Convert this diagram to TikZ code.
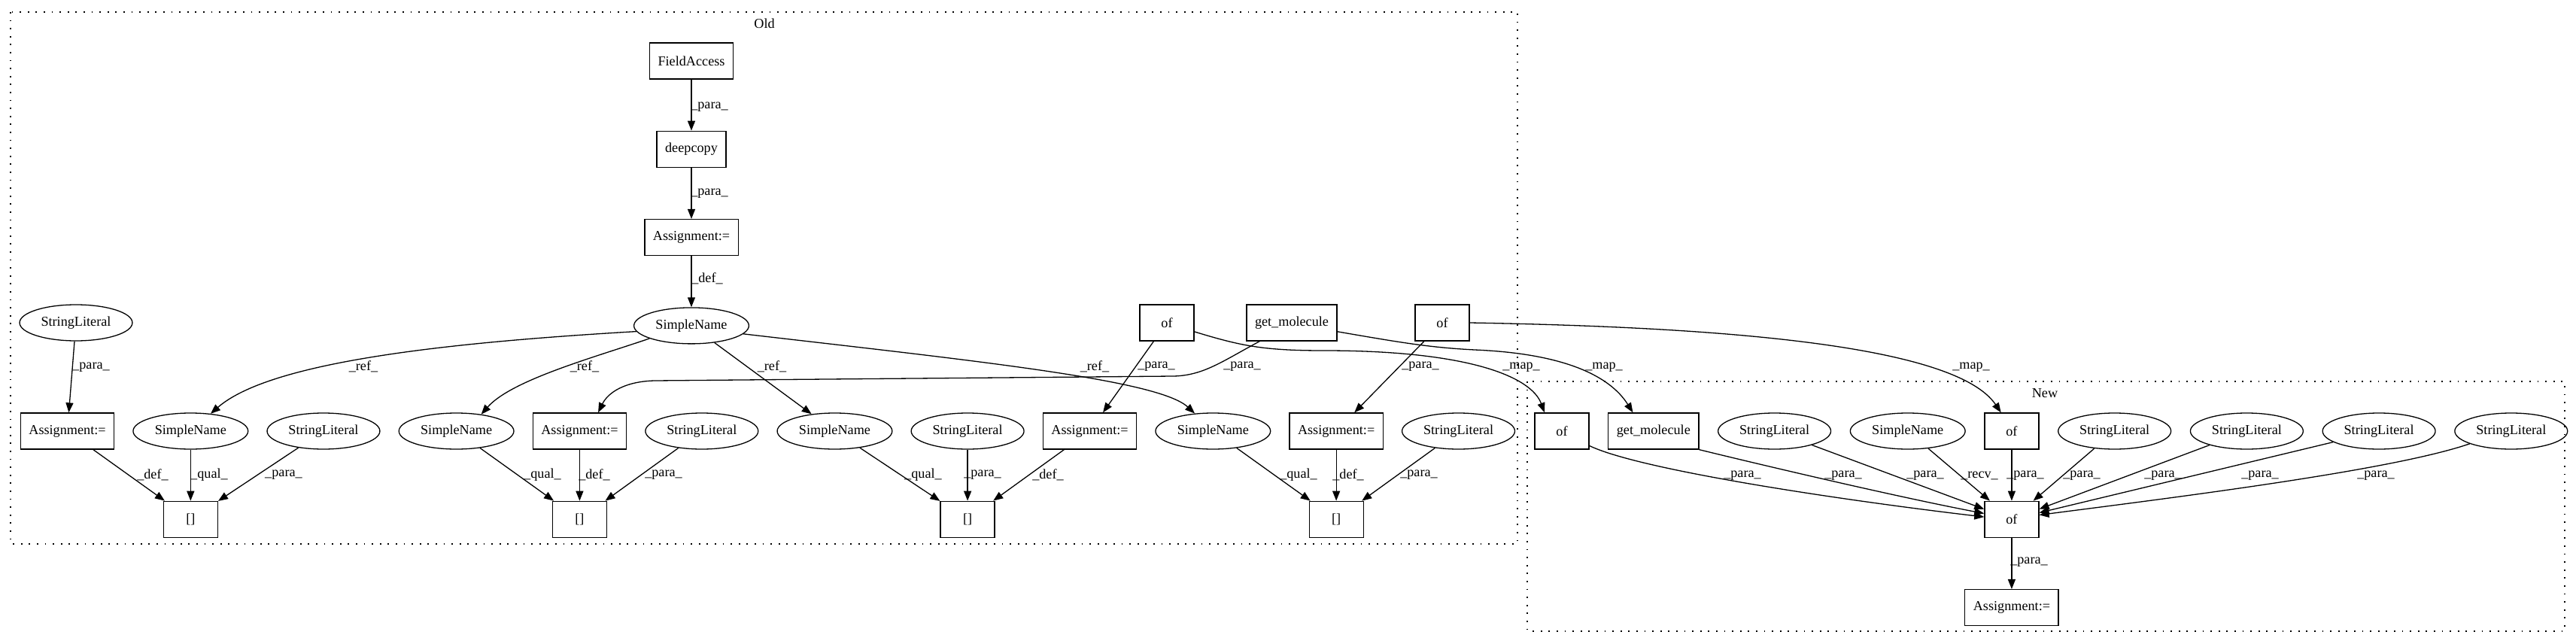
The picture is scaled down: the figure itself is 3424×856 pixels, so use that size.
\documentclass[tikz,border=0pt]{standalone}
\usepackage{fontspec}
\setmainfont{Liberation Serif}
\usetikzlibrary{positioning,shapes.geometric,arrows.meta}

\tikzset{
  boxed/.style={draw, rectangle, line width=1.3pt, minimum width=72pt,
    minimum height=48pt, inner xsep=11pt, inner ysep=0pt},
  oval/.style={draw, ellipse, line width=1.3pt, minimum height=48pt,
    inner xsep=6.5pt, inner ysep=0pt},
  link/.style={line width=1.3pt, -{Triangle[length=13pt,width=10pt]}},
  lbl/.style={inner sep=0pt},
  cluster/.style={line width=1.3pt, dash pattern=on 1.8pt off 8.8pt},
}

\begin{document}
\begin{tikzpicture}[x=1pt, y=-1pt, font=\fontsize{18.2pt}{22pt}\selectfont]

  \useasboundingbox (0,0) rectangle (3424,856);

  % Clusters
  \draw[cluster] (14,16) rectangle (2017,723);
  \node (oldlbl) at (1016,31) {Old};
  \draw[cluster] (2030,507) rectangle (3409,839);
  \node (newlbl) at (2718,523) {New};

  % Define nodes (old)
  \node[boxed] (fa) at (919,81) {FieldAccess};
  \node[boxed, below=68pt of fa] (dc) {deepcopy};
  \node[boxed, below=68pt of dc] (asg0) {Assignment:=};
  \node[oval, below=68pt of asg0] (sn0) {SimpleName};
  \node[oval] (sl0) at (101,429) {StringLiteral};
  \node[boxed] (of1) at (1551,429) {of};
  \node[boxed] (gm1) at (1717,429) {get\_molecule};
  \node[boxed] (of2) at (1917,429) {of};

  \node[boxed] (asg1) at (89.5,573) {Assignment:=};
  \node[oval, right=24pt of asg1] (sn1) {SimpleName};
  \node[oval, right=24pt of sn1] (sl1) {StringLiteral};
  \node[oval, right=24pt of sl1] (sn2) {SimpleName};
  \node[boxed, right=24pt of sn2] (asg2) {Assignment:=};
  \node[oval, right=24pt of asg2] (sl2) {StringLiteral};
  \node[oval, right=24pt of sl2] (sn3) {SimpleName};
  \node[oval, right=24pt of sn3] (sl3) {StringLiteral};
  \node[boxed, right=24pt of sl3] (asg3) {Assignment:=};
  \node[oval, right=24pt of asg3] (sn4) {SimpleName};
  \node[boxed, right=24pt of sn4] (asg4) {Assignment:=};
  \node[oval, right=24pt of asg4] (sl4) {StringLiteral};

  \node[boxed, below=68pt of sn1] (idx1) {[]};
  \node[boxed, below=68pt of asg2] (idx2) {[]};
  \node[boxed, below=68pt of sl3] (idx3) {[]};
  \node[boxed, below=68pt of asg4] (idx4) {[]};

  % Define nodes (new)
  \node[boxed] (nof1) at (2076,573) {of};
  \node[boxed, right=24.5pt of nof1] (ngm) {get\_molecule};
  \node[oval, right=24.5pt of ngm] (nsl1) {StringLiteral};
  \node[oval, right=24.5pt of nsl1] (nsn) {SimpleName};
  \node[boxed, right=24.5pt of nsn] (nof2) {of};
  \node[oval, right=24.5pt of nof2] (nsl2) {StringLiteral};
  \node[oval, right=24.5pt of nsl2] (nsl3) {StringLiteral};
  \node[oval, right=24.5pt of nsl3] (nsl4) {StringLiteral};
  \node[oval, right=24.5pt of nsl4] (nsl5) {StringLiteral};
  \node[boxed, below=68pt of nof2] (nof) {of};
  \node[boxed, below=68pt of nof] (nasg) {Assignment:=};

  % Connect the nodes (old)
  \draw[link] (fa) -- (dc) node[lbl] at (943,142) {\_para\_};
  \draw[link] (dc) -- (asg0) node[lbl] at (943,257) {\_para\_};
  \draw[link] (asg0) -- (sn0) node[lbl] at (940,370) {\_def\_};
  \draw[link] (sl0) -- (asg1) node[lbl] at (121,488) {\_para\_};
  \draw[link] (sn0.186) .. controls (600,455) and (360,480) .. (sn1.41)
    node[lbl] at (483,487) {\_ref\_};
  \draw[link] (sn0.197) .. controls (790,475) and (680,505) .. (sn2.34)
    node[lbl] at (777,487) {\_ref\_};
  \draw[link] (sn0) -- (sn3) node[lbl] at (1026,487) {\_ref\_};
  \draw[link] (sn0.351) .. controls (1300,480) and (1540,505) .. (sn4.136)
    node[lbl] at (1455,487) {\_ref\_};
  \draw[link] (gm1.210) .. controls (1625,480) and (1600,499) .. (1560,500)
    -- (870,506) .. controls (830,507) and (808,522) .. (asg2.45)
    node[lbl] at (1651,487) {\_para\_};
  \draw[link] (of1) -- (asg3) node[lbl] at (1537,487) {\_para\_};
  \draw[link] (of2) -- (asg4) node[lbl] at (1888,487) {\_para\_};

  \draw[link] (asg1) -- (idx1) node[lbl] at (203,631) {\_def\_};
  \draw[link] (sn1) -- (idx1) node[lbl] at (278,631) {\_qual\_};
  \draw[link] (sl1) -- (idx1) node[lbl] at (377,631) {\_para\_};
  \draw[link] (sn2) -- (idx2) node[lbl] at (721,631) {\_qual\_};
  \draw[link] (asg2) -- (idx2) node[lbl] at (790,631) {\_def\_};
  \draw[link] (sl2) -- (idx2) node[lbl] at (882,631) {\_para\_};
  \draw[link] (sn3) -- (idx3) node[lbl] at (1227,631) {\_qual\_};
  \draw[link] (sl3) -- (idx3) node[lbl] at (1306,631) {\_para\_};
  \draw[link] (asg3) -- (idx3) node[lbl] at (1393,631) {\_def\_};
  \draw[link] (sn4) -- (idx4) node[lbl] at (1726,631) {\_qual\_};
  \draw[link] (asg4) -- (idx4) node[lbl] at (1792,631) {\_def\_};
  \draw[link] (sl4) -- (idx4) node[lbl] at (1886,631) {\_para\_};

  % Old -> new
  \draw[link] (of1.342) .. controls (1650,460) and (1680,466) .. (1760,466)
    .. controls (1950,466) and (2035,500) .. (nof1.133)
    node[lbl] at (2022,488) {\_map\_};
  \draw[link] (gm1.349) .. controls (1860,455) and (1900,462) .. (1960,465)
    .. controls (2080,470) and (2140,500) .. (ngm.138)
    node[lbl] at (2132,488) {\_map\_};
  \draw[link] (of2.east) .. controls (2300,435) and (2600,460) .. (nof2.120)
    node[lbl] at (2620,488) {\_map\_};

  % Connect the nodes (new)
  \draw[link] (nof1.332) .. controls (2180,625) and (2450,665) .. (nof.175)
    node[lbl] at (2316,632) {\_para\_};
  \draw[link] (ngm.south east) .. controls (2350,620) and (2520,660) .. (nof.168)
    node[lbl] at (2450,632) {\_para\_};
  \draw[link] (nsl1) -- (nof) node[lbl] at (2559,632) {\_para\_};
  \draw[link] (nsn) -- (nof) node[lbl] at (2631,632) {\_recv\_};
  \draw[link] (nof2) -- (nof) node[lbl] at (2692,632) {\_para\_};
  \draw[link] (nsl2) -- (nof) node[lbl] at (2767,632) {\_para\_};
  \draw[link] (nsl3) -- (nof) node[lbl] at (2875,632) {\_para\_};
  \draw[link] (nsl4) -- (nof) node[lbl] at (3004,632) {\_para\_};
  \draw[link] (nsl5.197) .. controls (3180,625) and (2900,660) .. (nof.9)
    node[lbl] at (3158,632) {\_para\_};
  \draw[link] (nof) -- (nasg) node[lbl] at (2697,747) {\_para\_};

\end{tikzpicture}
\end{document}
